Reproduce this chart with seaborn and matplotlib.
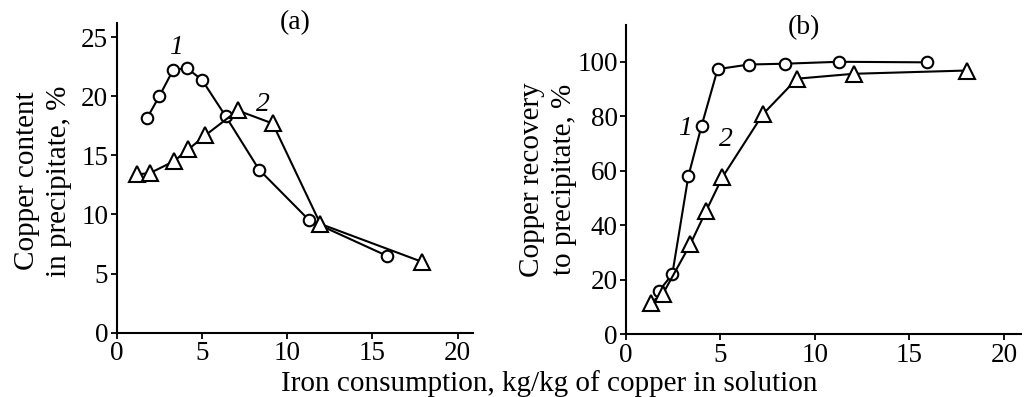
import matplotlib
matplotlib.use("Agg")
import matplotlib.pyplot as plt
import seaborn as sns
import pandas as pd

# Panel (a): copper content in precipitate, %
a1_x = [1.8, 2.5, 3.3, 4.1, 5.0, 6.4, 8.35, 11.3, 15.85]
a1_y = [18.2, 20.0, 22.2, 22.4, 21.4, 18.3, 13.8, 9.5, 6.5]
a2_x = [1.2, 1.95, 3.35, 4.2, 5.2, 7.1, 9.15, 11.95, 17.9]
a2_y = [13.4, 13.5, 14.5, 15.5, 16.7, 18.8, 17.7, 9.2, 6.0]

# Panel (b): copper recovery to precipitate, %
b1_x = [1.75, 2.45, 3.3, 4.0, 4.85, 6.5, 8.4, 11.25, 15.95]
b1_y = [15.9, 22.0, 58.0, 76.5, 97.3, 99.0, 99.3, 100.0, 99.8]
b2_x = [1.3, 1.95, 3.4, 4.25, 5.1, 7.25, 9.05, 12.05, 18.05]
b2_y = [11.6, 14.8, 33.0, 45.4, 57.6, 80.8, 93.8, 95.6, 96.8]

x_ticks = [0, 5, 10, 15, 20]
a_yticks = [0, 5, 10, 15, 20, 25]
b_yticks = [0, 20, 40, 60, 80, 100]

sns.set_theme(style="ticks")
plt.rcParams["font.family"] = ["Liberation Serif", "DejaVu Serif"]
plt.rcParams["text.color"] = "black"
plt.rcParams["axes.labelcolor"] = "black"

fig = plt.figure(figsize=(10.25, 3.97), dpi=100)
ax_a = fig.add_axes([0.1138, 0.162, 0.3477, 0.780])
ax_b = fig.add_axes([0.6107, 0.158, 0.3854, 0.779])

circ = dict(marker="o", markersize=8.3, markerfacecolor="white",
            markeredgecolor="black", markeredgewidth=1.5)
tri = dict(marker="^", markersize=11, markerfacecolor="white",
           markeredgecolor="black", markeredgewidth=1.5)

def draw(ax, x, y, style):
    df = pd.DataFrame({"x": x, "y": y})
    sns.lineplot(data=df, x="x", y="y", ax=ax, color="black", linewidth=1.5,
                 sort=False, estimator=None, **style)

draw(ax_a, a1_x, a1_y, circ)
draw(ax_a, a2_x, a2_y, tri)
draw(ax_b, b1_x, b1_y, circ)
draw(ax_b, b2_x, b2_y, tri)

for ax, yt, ylim in [(ax_a, a_yticks, (0, 26.2)), (ax_b, b_yticks, (0, 113.5))]:
    ax.set_xlim(0, 20.9)
    ax.set_ylim(*ylim)
    ax.set_xticks(x_ticks)
    ax.set_yticks(yt)
    ax.set_xlabel("")
    ax.set_ylabel("")
    for s in ["top", "right"]:
        ax.spines[s].set_visible(False)
    for s in ["left", "bottom"]:
        ax.spines[s].set_linewidth(1.5)
        ax.spines[s].set_color("black")
    ax.tick_params(direction="out", length=4, width=1.3, labelsize=19.5,
                   colors="black", pad=2)

ax_a.text(-0.207, 0.49, "Copper content\nin precipitate, %", transform=ax_a.transAxes,
          rotation=90, ha="center", va="center", fontsize=21, multialignment="center",
          linespacing=1.3)
ax_b.text(-0.197, 0.50, "Copper recovery\nto precipitate, %", transform=ax_b.transAxes,
          rotation=90, ha="center", va="center", fontsize=21, multialignment="center",
          linespacing=1.3)

ax_a.text(0.50, 1.0, "(a)", transform=ax_a.transAxes, ha="center", va="center", fontsize=20)
ax_b.text(0.45, 0.99, "(b)", transform=ax_b.transAxes, ha="center", va="center", fontsize=20)

ax_a.text(3.5, 24.1, "1", style="italic", fontsize=20, ha="center", va="center")
ax_a.text(8.6, 19.3, "2", style="italic", fontsize=20, ha="center", va="center")
ax_b.text(3.1, 75.6, "1", style="italic", fontsize=20, ha="center", va="center")
ax_b.text(5.3, 71.4, "2", style="italic", fontsize=20, ha="center", va="center")

fig.text(0.536, 0.035, "Iron consumption, kg/kg of copper in solution",
         ha="center", va="center", fontsize=21)

fig.savefig("out.png", dpi=100)
